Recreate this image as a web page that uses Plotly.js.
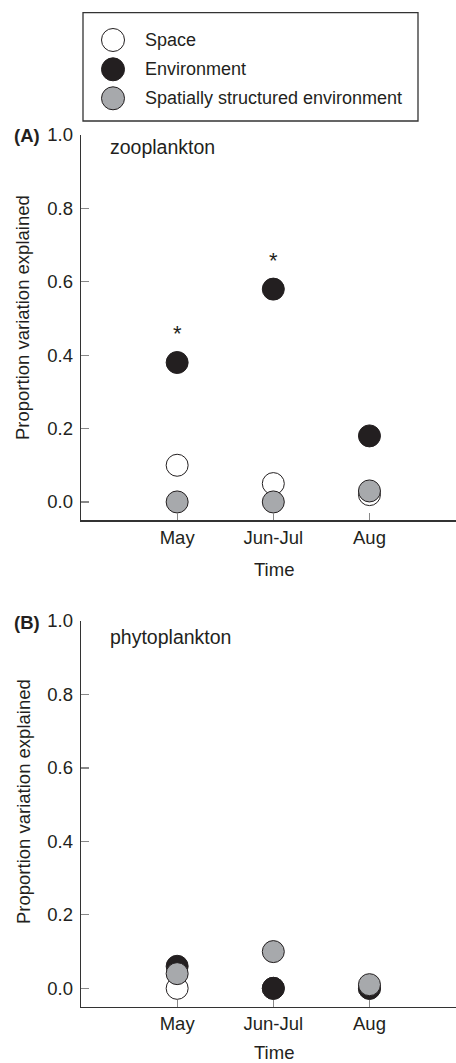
<!DOCTYPE html>
<html>
<head>
<meta charset="utf-8">
<script src="https://cdn.plot.ly/plotly-3.0.1.min.js"></script>
<style>html,body{margin:0;padding:0;background:#fff;}#chart{width:456px;height:1063px;}</style>
</head>
<body>
<div id="chart"></div>
<script>
// ---- data ----
var months = ['May', 'Jun-Jul', 'Aug'];
var seriesNames = ['Space', 'Environment', 'Spatially structured environment'];
// Panel A: zooplankton
var zooSpace = [0.10, 0.05, 0.02];
var zooEnv = [0.38, 0.58, 0.18];
var zooSpatEnv = [0.00, 0.00, 0.03];
var zooSig = ['*', '*', ''];
// Panel B: phytoplankton
var phySpace = [0.00, 0.00, 0.00];
var phyEnv = [0.06, 0.00, 0.00];
var phySpatEnv = [0.04, 0.10, 0.01];
var yTickVals = [0.0, 0.2, 0.4, 0.6, 0.8, 1.0];
var yTickText = ['0.0', '0.2', '0.4', '0.6', '0.8', '1.0'];

// ---- styles ----
var ink = '#231f20';
var fills = ['#ffffff', '#231f20', '#a7a9ac'];
var FONT = 'Liberation Sans, Arial, Helvetica, sans-serif';
var FS = 18.5;
var W = 456, H = 1063;

function mk(name, i, x, y, xa, ya) {
  return {
    type: 'scatter', mode: 'markers', name: name, x: x, y: y,
    xaxis: xa, yaxis: ya, showlegend: false, cliponaxis: false,
    marker: {size: 22, color: fills[i], line: {color: ink, width: 1}},
    hoverinfo: 'x+y+name'
  };
}

var traces = [
  mk(seriesNames[0], 0, months, zooSpace, 'x', 'y'),
  mk(seriesNames[1], 1, months, zooEnv, 'x', 'y'),
  mk(seriesNames[2], 2, months, zooSpatEnv, 'x', 'y'),
  mk(seriesNames[0], 0, months, phySpace, 'x2', 'y2'),
  mk(seriesNames[1], 1, months, phyEnv, 'x2', 'y2'),
  mk(seriesNames[2], 2, months, phySpatEnv, 'x2', 'y2')
];

function xAxis(anchor) {
  return {
    anchor: anchor, domain: [81 / W, 1], type: 'category',
    categoryorder: 'array', categoryarray: months,
    range: [-1, 2.9], showline: true, linecolor: '#333', linewidth: 1.3,
    ticks: 'inside', ticklen: 7, tickcolor: '#888', tickwidth: 1.2,
    showgrid: false, zeroline: false,
    tickfont: {family: FONT, size: FS, color: ink}
  };
}
function yAxis(anchor, top, bottom) {
  return {
    anchor: anchor, domain: [1 - bottom / H, 1 - top / H],
    range: [-0.05, 1.0], tickvals: yTickVals, ticktext: yTickText,
    showline: true, linecolor: '#333', linewidth: 1.3,
    ticks: 'inside', ticklen: 8, tickcolor: '#888', tickwidth: 1.2,
    showgrid: false, zeroline: false, ticklabelstandoff: 3,
    tickfont: {family: FONT, size: FS, color: ink}
  };
}

var annotations = [];
var shapes = [];
function txt(t, x, y, opts) {
  var a = {text: t, x: x, y: y, xref: 'paper', yref: 'paper', showarrow: false,
    font: {family: FONT, size: FS, color: ink}, xanchor: 'center', yanchor: 'middle'};
  for (var k in opts) a[k] = opts[k];
  annotations.push(a);
}
// panel labels
txt('<b>(A)</b>', 27 / W, 1 - 136 / H, {});
txt('<b>(B)</b>', 27 / W, 1 - 622 / H, {});
txt('zooplankton', 108 / W, 1 - 147 / H, {xanchor: 'left', font: {family: FONT, size: 19.5, color: ink}});
txt('phytoplankton', 108 / W, 1 - 637 / H, {xanchor: 'left', font: {family: FONT, size: 19.5, color: ink}});
// axis titles
txt('Proportion variation explained', 23 / W, 1 - 318 / H, {textangle: -90});
txt('Proportion variation explained', 23 / W, 1 - 802 / H, {textangle: -90});
txt('Time', 273.5 / W, 1 - 569 / H, {});
txt('Time', 273.5 / W, 1 - 1052 / H, {});
// significance asterisks
for (var i = 0; i < months.length; i++) {
  if (zooSig[i]) {
    annotations.push({text: zooSig[i], x: months[i], y: zooEnv[i], xref: 'x', yref: 'y',
      showarrow: false, yshift: 29, xanchor: 'center', yanchor: 'middle',
      font: {family: FONT, size: 22, color: ink}});
  }
}

// legend box (drawn manually to match large key symbols)
shapes.push({type: 'rect', xref: 'paper', yref: 'paper',
  x0: 83 / W, x1: 418 / W, y0: 1 - 121 / H, y1: 1 - 12.7 / H,
  line: {color: '#333', width: 1.3}, fillcolor: '#fff'});
var legY = [40, 69.3, 98.3];
for (var s = 0; s < seriesNames.length; s++) {
  var r = 11.5;
  shapes.push({type: 'circle', xref: 'paper', yref: 'paper',
    x0: (113 - r) / W, x1: (113 + r) / W, y0: 1 - (legY[s] + r) / H, y1: 1 - (legY[s] - r) / H,
    line: {color: ink, width: 1}, fillcolor: fills[s]});
  txt(seriesNames[s], 142.5 / W, 1 - legY[s] / H, {xanchor: 'left', font: {family: FONT, size: 18, color: ink}});
}

var layout = {
  width: W, height: H, margin: {l: 0, r: 0, t: 0, b: 0},
  paper_bgcolor: '#fff', plot_bgcolor: 'rgba(0,0,0,0)',
  font: {family: FONT, size: FS, color: ink},
  xaxis: xAxis('y'), yaxis: yAxis('x', 135, 520.3),
  xaxis2: xAxis('y2'), yaxis2: yAxis('x2', 621, 1006.7),
  showlegend: false,
  shapes: shapes,
  annotations: annotations
};

Plotly.newPlot('chart', traces, layout, {displayModeBar: false, staticPlot: true});
</script>
</body>
</html>
